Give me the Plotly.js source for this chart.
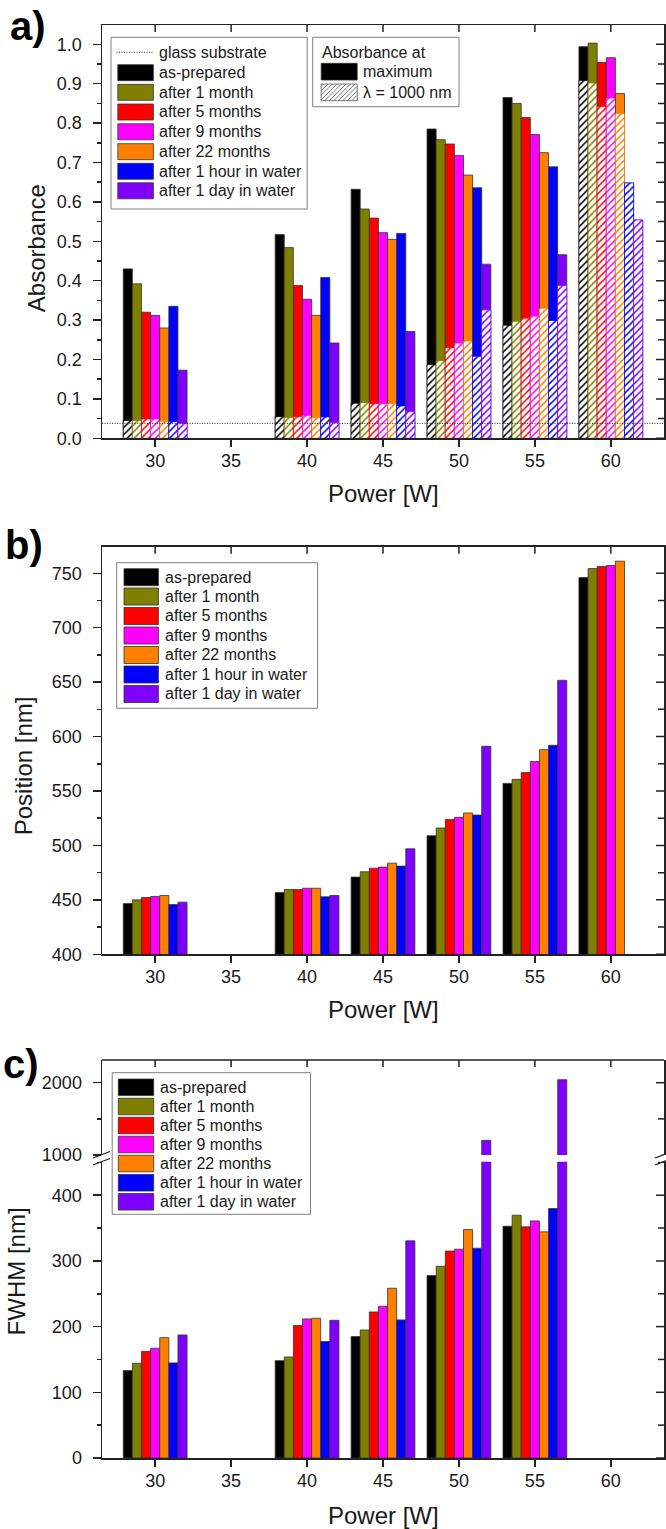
<!DOCTYPE html>
<html>
<head>
<meta charset="utf-8">
<script src="https://cdn.plot.ly/plotly-3.0.1.min.js"></script>
<style>
  html, body { margin: 0; padding: 0; background: #ffffff; }
  #chart { width: 666px; height: 1529px; }
</style>
</head>
<body>
<div id="chart"></div>
<script>
// ---------------- DATA ----------------
const powers = [30, 35, 40, 45, 50, 55, 60];
const seriesNames = ['as-prepared', 'after 1 month', 'after 5 months', 'after 9 months',
                     'after 22 months', 'after 1 hour in water', 'after 1 day in water'];

// a) absorbance at maximum
const absMaxAsPrepared = [0.430, null, 0.517, 0.632, 0.785, 0.865, 0.994];
const absMax1Month     = [0.392, null, 0.484, 0.582, 0.758, 0.850, 1.003];
const absMax5Months    = [0.320, null, 0.388, 0.559, 0.747, 0.814, 0.954];
const absMax9Months    = [0.312, null, 0.353, 0.522, 0.718, 0.771, 0.966];
const absMax22Months   = [0.280, null, 0.312, 0.505, 0.668, 0.725, 0.875];
const absMax1HourWater = [0.335, null, 0.408, 0.520, 0.636, 0.689, 0.648];
const absMax1DayWater  = [0.173, null, 0.242, 0.271, 0.442, 0.466, 0.554];

// a) absorbance at lambda = 1000 nm
const abs1000AsPrepared = [0.045, null, 0.055, 0.089, 0.187, 0.287, 0.908];
const abs1000_1Month     = [0.045, null, 0.053, 0.091, 0.197, 0.297, 0.902];
const abs1000_5Months    = [0.049, null, 0.055, 0.088, 0.230, 0.305, 0.842];
const abs1000_9Months    = [0.049, null, 0.058, 0.088, 0.242, 0.310, 0.864];
const abs1000_22Months   = [0.043, null, 0.052, 0.088, 0.247, 0.330, 0.824];
const abs1000_1HourWater = [0.042, null, 0.054, 0.082, 0.208, 0.299, 0.648];
const abs1000_1DayWater  = [0.038, null, 0.040, 0.068, 0.326, 0.388, 0.554];

const glassSubstrate = 0.038;

// b) peak position [nm]
const posAsPrepared = [446.6, null, 456.7, 470.9, 508.9, 557.0, 746.0];
const pos1Month     = [450.0, null, 459.5, 475.8, 516.0, 560.7, 754.3];
const pos5Months    = [452.1, null, 459.5, 479.1, 523.9, 566.9, 756.1];
const pos9Months    = [453.0, null, 460.7, 480.1, 525.8, 577.0, 757.1];
const pos22Months   = [454.0, null, 460.7, 483.7, 529.8, 588.0, 761.1];
const pos1HourWater = [445.7, null, 452.8, 481.0, 527.9, 592.0, null];
const pos1DayWater  = [447.9, null, 454.0, 496.9, 591.1, 651.7, null];

// c) FWHM [nm]
const fwhmAsPrepared = [133.0, null, 148.2, 184.8, 277.7, 352.8, null];
const fwhm1Month     = [144.2, null, 153.8, 194.9, 291.9, 369.5, null];
const fwhm5Months    = [162.4, null, 201.5, 222.3, 315.0, 351.8, null];
const fwhm9Months    = [167.0, null, 211.7, 231.0, 317.8, 360.9, null];
const fwhm22Months   = [183.2, null, 212.7, 258.4, 347.7, 344.2, null];
const fwhm1HourWater = [144.7, null, 177.2, 210.2, 319.3, 379.7, null];
const fwhm1DayWater  = [187.3, null, 209.6, 330.5, 1202.8, 2041.5, null];

// tick labels
const powerTicks = [30, 35, 40, 45, 50, 55, 60];
const absTicks = [0.0, 0.1, 0.2, 0.3, 0.4, 0.5, 0.6, 0.7, 0.8, 0.9, 1.0];
const posTicks = [400, 450, 500, 550, 600, 650, 700, 750];
const fwhmLowerTicks = [0, 100, 200, 300, 400];
const fwhmUpperTicks = [1000, 2000];

// ---------------- STYLE ----------------
const seriesColors = ['#000000', '#808000', '#ff0000', '#ff00ff', '#ff8000', '#0000ff', '#8000ff'];
const FONT = 'Arial, "Liberation Sans", sans-serif';
const TXT = '#1a1a1a';
const AX = '#222222';
const W = 666, H = 1529, ML = 102, MR = 2;
const PW = W - ML - MR;
const X = px => (px - ML) / PW;
const Y = py => 1 - py / H;

const absMax = [absMaxAsPrepared, absMax1Month, absMax5Months, absMax9Months, absMax22Months, absMax1HourWater, absMax1DayWater];
const abs1000 = [abs1000AsPrepared, abs1000_1Month, abs1000_5Months, abs1000_9Months, abs1000_22Months, abs1000_1HourWater, abs1000_1DayWater];
const pos = [posAsPrepared, pos1Month, pos5Months, pos9Months, pos22Months, pos1HourWater, pos1DayWater];
const fwhm = [fwhmAsPrepared, fwhm1Month, fwhm5Months, fwhm9Months, fwhm22Months, fwhm1HourWater, fwhm1DayWater];

const BAR_W = 0.6;
const offsetOf = i => -3.5 * BAR_W + i * BAR_W;

const traces = [];
function solidBar(i, y, xa, ya) {
  return { type: 'bar', x: powers, y: y, xaxis: xa, yaxis: ya, width: BAR_W, offset: offsetOf(i),
    name: seriesNames[i], showlegend: false, hoverinfo: 'skip',
    marker: { color: seriesColors[i], line: { color: '#333333', width: 0.8 } } };
}
function hatchBar(i, y, xa, ya) {
  return { type: 'bar', x: powers, y: y, xaxis: xa, yaxis: ya, width: BAR_W, offset: offsetOf(i),
    name: seriesNames[i] + ' (λ = 1000 nm)', showlegend: false, hoverinfo: 'skip',
    marker: { color: seriesColors[i],
      pattern: { shape: '/', fgcolor: seriesColors[i], bgcolor: '#ffffff', size: 5, solidity: 0.3 },
      line: { color: seriesColors[i], width: 0.7 } } };
}
for (let i = 0; i < 7; i++) {
  traces.push(solidBar(i, absMax[i], 'x', 'y'));
  traces.push(hatchBar(i, abs1000[i], 'x', 'y'));
}
for (let i = 0; i < 7; i++) traces.push(solidBar(i, pos[i], 'x2', 'y2'));
for (let i = 0; i < 7; i++) traces.push(solidBar(i, fwhm[i], 'x3', 'y3'));
for (let i = 0; i < 7; i++) traces.push(solidBar(i, fwhm[i], 'x3', 'y4'));

// ---------------- AXES ----------------
const tickFont = { family: FONT, size: 18, color: TXT };
const base = { showline: true, linecolor: AX, linewidth: 1.5, showgrid: false, zeroline: false,
  tickwidth: 1.5, tickcolor: AX, tickfont: tickFont, fixedrange: true };
const xRange = [26.5, 63.5];
const xBottom = (anchor, mirror) => Object.assign({}, base, { domain: [0, 1], anchor: anchor, range: xRange, mirror: mirror,
  tickmode: 'array', tickvals: powerTicks, ticks: 'outside', ticklen: 7, ticklabelstandoff: -1 });
const yLeft = (opts) => Object.assign({}, base, { ticks: 'outside', ticklen: 8, ticklabelstandoff: 7, mirror: true }, opts);
const minorL = (o) => ({ minor: Object.assign({ ticks: 'outside', ticklen: 4, tickwidth: 1.5, tickcolor: AX }, o) });

const layout = {
  width: W, height: H,
  margin: { l: ML, r: MR, t: 0, b: 0, pad: 0 },
  paper_bgcolor: '#ffffff', plot_bgcolor: '#ffffff',
  font: { family: FONT, color: TXT, size: 16 },
  barmode: 'overlay',
  showlegend: false,
  xaxis: xBottom('y', true),
  xaxis2: xBottom('y2', true),
  xaxis3: xBottom('y3', false),
  yaxis: yLeft({ domain: [Y(438.3), Y(25)], anchor: 'x', range: [0, 1.049], tickmode: 'array', tickvals: absTicks,
    tickformat: '.1f', minor: { ticks: 'outside', ticklen: 4, tickwidth: 1.5, tickcolor: AX, dtick: 0.05, tick0: 0 } }),
  yaxis2: yLeft({ domain: [Y(954.3), Y(546.7)], anchor: 'x2', range: [400, 774.4], tickmode: 'array', tickvals: posTicks,
    minor: { ticks: 'outside', ticklen: 4, tickwidth: 1.5, tickcolor: AX, dtick: 25, tick0: 400 } }),
  yaxis3: yLeft({ domain: [Y(1458), Y(1161.7)], anchor: 'x3', range: [0, 451], tickmode: 'array', tickvals: fwhmLowerTicks,
    minor: { ticks: 'outside', ticklen: 4, tickwidth: 1.5, tickcolor: AX, dtick: 50, tick0: 0 } }),
  yaxis4: yLeft({ domain: [Y(1155), Y(1060)], anchor: 'x3', range: [1000, 2314], tickmode: 'array', tickvals: fwhmUpperTicks,
    minor: { ticks: 'outside', ticklen: 4, tickwidth: 1.5, tickcolor: AX, tickmode: 'array', tickvals: [1500] } }),
  shapes: [],
  annotations: []
};

// glass substrate reference line
layout.shapes.push({ type: 'line', xref: 'x domain', x0: 0, x1: 1, yref: 'y', y0: glassSubstrate, y1: glassSubstrate,
  line: { color: '#222', width: 1, dash: '1px,1.5px' }, layer: 'above' });

// top border of panel c (upper segment)
layout.shapes.push({ type: 'line', xref: 'x3 domain', x0: 0, x1: 1, yref: 'y4 domain', y0: 1, y1: 1,
  line: { color: AX, width: 1.5 }, layer: 'above' });

// inward-pointing ticks on the top and right edges (Origin style)
function topTicks(xa, yaDomain) {
  powerTicks.forEach(v => layout.shapes.push({ type: 'line', xref: xa, x0: v, x1: v,
    yref: yaDomain, ysizemode: 'pixel', yanchor: 1, y0: 0, y1: -7, line: { color: AX, width: 1.5 }, layer: 'above' }));
}
function rightTicks(xaDomain, ya, vals, len) {
  vals.forEach(v => layout.shapes.push({ type: 'line', yref: ya, y0: v, y1: v,
    xref: xaDomain, xsizemode: 'pixel', xanchor: 1, x0: 0, x1: -len, line: { color: AX, width: 1.5 }, layer: 'above' }));
}
function steps(a, b, s) { const out = []; for (let k = 0; a + k * s <= b + 1e-9; k++) out.push(+(a + k * s).toFixed(6)); return out; }
topTicks('x', 'y domain');
topTicks('x2', 'y2 domain');
topTicks('x3', 'y4 domain');
rightTicks('x domain', 'y', absTicks, 8);
rightTicks('x domain', 'y', absTicks.slice(0, -1).map(v => v + 0.05), 6);
rightTicks('x2 domain', 'y2', posTicks, 8);
rightTicks('x2 domain', 'y2', posTicks.map(v => v + 25), 6);
rightTicks('x3 domain', 'y3', fwhmLowerTicks, 8);
rightTicks('x3 domain', 'y3', fwhmLowerTicks.map(v => v + 50), 6);
rightTicks('x3 domain', 'y4', [2000], 8);
rightTicks('x3 domain', 'y4', [1500], 6);

// ---------------- helpers for legends & text ----------------
function rect(x0, y0, x1, y1, fill, lineColor, lw) {
  layout.shapes.push({ type: 'rect', xref: 'paper', yref: 'paper', x0: X(x0), x1: X(x1), y0: Y(y1), y1: Y(y0),
    fillcolor: fill, line: { color: lineColor, width: lw }, layer: 'above' });
}
function seg(x0, y0, x1, y1, color, w, dash) {
  layout.shapes.push({ type: 'line', xref: 'paper', yref: 'paper', x0: X(x0), x1: X(x1), y0: Y(y0), y1: Y(y1),
    line: { color: color, width: w, dash: dash || 'solid' }, layer: 'above' });
}
function text(x, y, t, opts) {
  layout.annotations.push(Object.assign({ xref: 'paper', yref: 'paper', x: X(x), y: Y(y), text: t, showarrow: false,
    xanchor: 'left', yanchor: 'middle', font: { family: FONT, size: 16, color: TXT } }, opts || {}));
}
function hatchRect(x0, y0, x1, y1, color, step) {
  let d = '';
  for (let c = x0 + y0 + step / 2; c < x1 + y1; c += step) {
    const xa = Math.max(x0, c - y1), xb = Math.min(x1, c - y0);
    if (xb <= xa) continue;
    d += 'M' + X(xa) + ',' + Y(c - xa) + 'L' + X(xb) + ',' + Y(c - xb);
  }
  layout.shapes.push({ type: 'path', xref: 'paper', yref: 'paper', path: d, line: { color: color, width: 0.8 }, layer: 'above' });
}

function seriesLegend(bx0, by0, bx1, by1, sx0, sx1, tx, centers, sh) {
  rect(bx0, by0, bx1, by1, '#ffffff', '#808080', 1);
  for (let i = 0; i < 7; i++) {
    rect(sx0, centers[i] - sh / 2, sx1, centers[i] + sh / 2, seriesColors[i], '#333333', 0.8);
    text(tx, centers[i], seriesNames[i]);
  }
}

// legend a)
seriesLegend(111, 37.3, 307.2, 209, 117.8, 153.4, 156.5,
  [72.7, 92.3, 112.0, 131.8, 151.7, 171.3, 190.8], 16);
seg(116.5, 52.3, 152.5, 52.3, '#333', 1, '1px,1.5px');
text(156.5, 52.3, 'glass substrate');
// legend a) second box
rect(312.7, 37.3, 459, 106.7, '#ffffff', '#808080', 1);
text(320, 52.3, 'Absorbance at');
rect(321.2, 63.3, 357.2, 80, '#000000', '#333333', 0.8);
text(360.5, 71.7, 'maximum');
rect(321.2, 84, 357.2, 100.7, '#ffffff', '#555555', 0.8);
hatchRect(321.2, 84, 357.2, 100.7, '#555555', 4.5);
text(360.5, 92.3, 'λ = 1000 nm');

// legend b)
seriesLegend(116.7, 562.7, 317.6, 708.3, 124, 158.4, 163,
  [577.2, 596.5, 616.0, 635.5, 655.0, 674.5, 694.0], 17);
// legend c)
seriesLegend(112.2, 1072.7, 310.5, 1214.3, 118.3, 153.7, 158.4,
  [1087.3, 1106.5, 1125.5, 1144.5, 1163.5, 1182.8, 1201.8], 16.5);

// axis break marks (panel c)
seg(93, 1158, 110, 1151.5, '#222', 1.3);
seg(93, 1165, 110, 1158.5, '#222', 1.3);
seg(655, 1158, 672, 1151.5, '#222', 1.3);
seg(655, 1165, 672, 1158.5, '#222', 1.3);

// panel labels
const panelFont = { family: FONT, size: 40, color: '#000', weight: 'bold' };
text(8, 26, '<b>a)</b>', { font: panelFont });
text(3, 545, '<b>b)</b>', { font: panelFont });
text(1, 1064, '<b>c)</b>', { font: panelFont });

// axis titles
const titleFont = { family: FONT, size: 24, color: TXT };
text(383, 493.7, 'Power [W]', { xanchor: 'center', font: titleFont });
text(383, 1009.5, 'Power [W]', { xanchor: 'center', font: titleFont });
text(383, 1515.4, 'Power [W]', { xanchor: 'center', font: titleFont });
text(36.2, 248, 'Absorbance', { xanchor: 'center', textangle: -90, font: titleFont });
text(23.3, 766, 'Position [nm]', { xanchor: 'center', textangle: -90, font: titleFont });
text(16.4, 1271, 'FWHM [nm]', { xanchor: 'center', textangle: -90, font: titleFont });

Plotly.newPlot('chart', traces, layout, { staticPlot: true, displayModeBar: false });
</script>
</body>
</html>
